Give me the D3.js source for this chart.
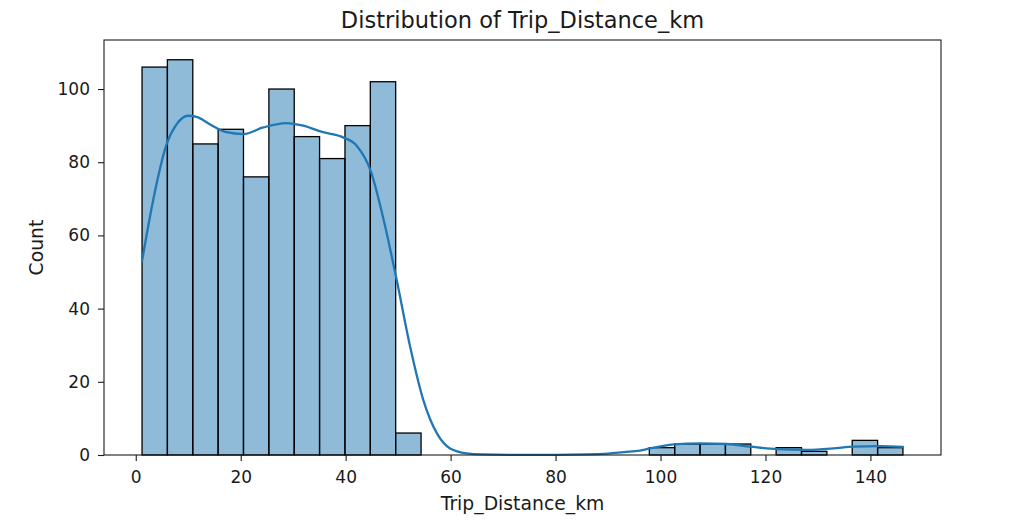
<!DOCTYPE html>
<html>
<head>
<meta charset="utf-8">
<script src="https://cdn.jsdelivr.net/npm/d3@7"></script>
<style>
    body { margin: 0; background: #fff; }
    text { font-family: "DejaVu Sans", sans-serif; fill: #1a1a1a; }
    .axis path, .axis line { stroke: #1a1a1a; }
</style>
</head>
<body>
<div id="HistCanvas"></div>
<script>
// histogram bins (km), 30 bins between min and max of the data
const binEdges = [1.2, 6.03, 10.87, 15.7, 20.53, 25.37, 30.2, 35.03, 39.87, 44.7,
    49.53, 54.37, 59.2, 64.03, 68.87, 73.7, 78.53, 83.37, 88.2, 93.03,
    97.87, 102.7, 107.53, 112.37, 117.2, 122.03, 126.87, 131.7, 136.53, 141.37, 146.2];
const binCounts = [106, 108, 85, 89, 76, 100, 87, 81, 90, 102,
    6, 0, 0, 0, 0, 0, 0, 0, 0, 0,
    2, 3, 3, 3, 0, 2, 1, 0, 4, 2];

// kde curve (count scale)
const kdeX = [1.2, 3.3, 5.9, 7.8, 10.0, 11.6, 14.1, 17.3, 20.5, 24.3, 28.7, 31.9, 35.7, 39.5,
    42.1, 44.8, 47.2, 49.7, 52.3, 54.8, 57.4, 59.9, 63.1, 66, 72, 80, 86, 90, 93, 96.1,
    98, 102.5, 107.6, 112.7, 117.1, 122.2, 127.9, 133, 136.8, 141.9, 146.2];
const kdeY = [53, 69.5, 85, 90.4, 92.7, 92.4, 90.4, 88.2, 87.7, 89.5, 90.7, 90, 88.2, 86.8,
    84.5, 77.5, 64.5, 48, 29.5, 15, 5.9, 1.8, 0.45, 0.15, 0.05, 0.05, 0.15, 0.4, 0.8, 1.2,
    1.8, 2.9, 3.2, 3.0, 2.3, 1.6, 1.4, 1.8, 2.3, 2.4, 2.2];

const xTicks = [0, 20, 40, 60, 80, 100, 120, 140];
const yTicks = [0, 20, 40, 60, 80, 100];
const titleText = 'Distribution of Trip_Distance_km';
const xLabel = 'Trip_Distance_km';
const yLabel = 'Count';

class HistogramView {

    constructor(container){
        this.container = container;
        this.width = 1017;
        this.height = 529;
        this.left = 104;
        this.top = 40;
        this.right = 941;
        this.bottom = 455;
        this.color = '#1f77b4';
    }

    init(){
        d3.select(this.container).html('');
        this.svg = d3.select(this.container).append('svg')
            .attr('width', this.width)
            .attr('height', this.height);

        // matplotlib style 5% margins round the data range
        let lo = binEdges[0], hi = binEdges[binEdges.length - 1];
        let pad = (hi - lo) * 0.05;
        this.x = d3.scaleLinear().domain([lo - pad, hi + pad]).range([this.left, this.right]);
        this.y = d3.scaleLinear().domain([0, d3.max(binCounts) * 1.05]).range([this.bottom, this.top]);
    }

    draw(){
        this.draw_bars();
        this.draw_kde();
        this.draw_axes();
        this.draw_text();
    }

    draw_bars(){
        let bins = binCounts.map((c, i)=>({x0: binEdges[i], x1: binEdges[i + 1], count: c}))
            .filter(d=>d.count > 0);

        this.svg.selectAll('.bar').data(bins).enter().append('rect')
            .attr('class', 'bar')
            .attr('x', d=>this.x(d.x0))
            .attr('y', d=>this.y(d.count))
            .attr('width', d=>this.x(d.x1) - this.x(d.x0))
            .attr('height', d=>this.y(0) - this.y(d.count))
            .attr('fill', this.color)
            .attr('fill-opacity', 0.5)
            .attr('stroke', '#000')
            .attr('stroke-width', 1.3);
    }

    draw_kde(){
        let pts = kdeX.map((v, i)=>[v, kdeY[i]]);
        let line = d3.line()
            .x(d=>this.x(d[0]))
            .y(d=>this.y(d[1]))
            .curve(d3.curveMonotoneX);

        this.svg.append('path')
            .datum(pts)
            .attr('d', line)
            .attr('fill', 'none')
            .attr('stroke', this.color)
            .attr('stroke-width', 2.3)
            .attr('stroke-linecap', 'round');
    }

    draw_axes(){
        //frame
        this.svg.append('rect')
            .attr('x', this.left)
            .attr('y', this.top)
            .attr('width', this.right - this.left)
            .attr('height', this.bottom - this.top)
            .attr('fill', 'none')
            .attr('stroke', '#1a1a1a')
            .attr('stroke-width', 1.1);

        let xAxis = this.svg.append('g').attr('class', 'axis')
            .attr('transform', 'translate(0,' + this.bottom + ')')
            .call(d3.axisBottom(this.x).tickValues(xTicks).tickSize(6).tickPadding(10).tickSizeOuter(0));
        xAxis.select('.domain').remove();
        xAxis.selectAll('text').style('font-size', '17px');

        let yAxis = this.svg.append('g').attr('class', 'axis')
            .attr('transform', 'translate(' + this.left + ',0)')
            .call(d3.axisLeft(this.y).tickValues(yTicks).tickSize(6).tickPadding(8).tickSizeOuter(0));
        yAxis.select('.domain').remove();
        yAxis.selectAll('text').style('font-size', '17px');
        this.svg.selectAll('.axis line').attr('stroke-width', 1.1);
    }

    draw_text(){
        let cx = (this.left + this.right) / 2;

        this.svg.append('text')
            .text(titleText)
            .attr('x', cx)
            .attr('y', 28)
            .attr('text-anchor', 'middle')
            .style('font-size', '22.5px');

        this.svg.append('text')
            .text(xLabel)
            .attr('x', cx)
            .attr('y', 510)
            .attr('text-anchor', 'middle')
            .style('font-size', '18.8px');

        this.svg.append('text')
            .text(yLabel)
            .attr('transform', 'translate(43,' + ((this.top + this.bottom) / 2) + ') rotate(-90)')
            .attr('text-anchor', 'middle')
            .style('font-size', '18.8px');
    }
}

let view = new HistogramView('#HistCanvas');
view.init();
view.draw();
</script>
</body>
</html>
